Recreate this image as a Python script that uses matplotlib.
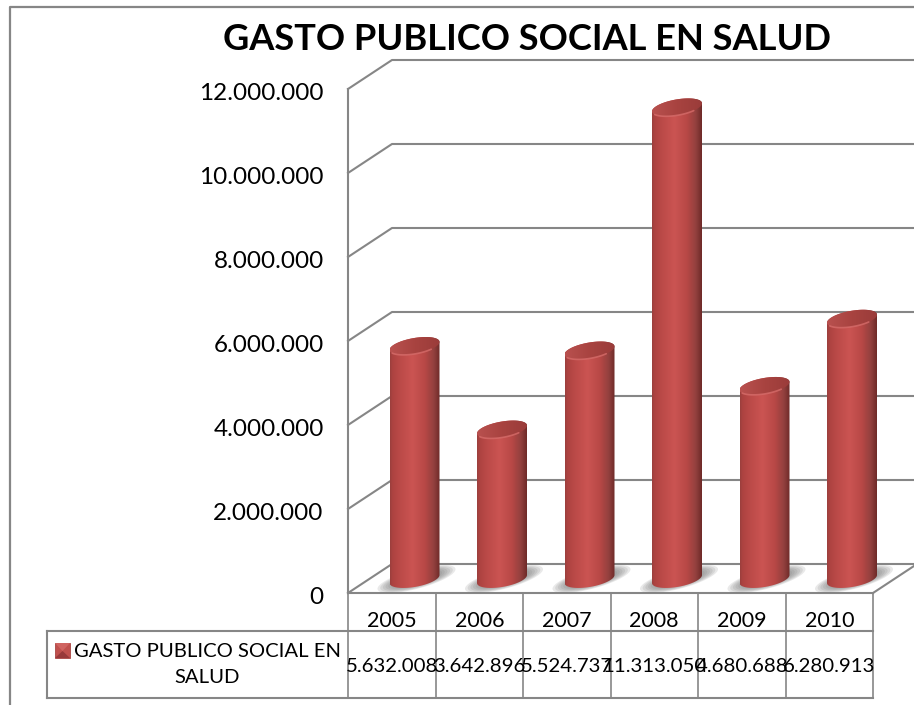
import numpy as np
import matplotlib
matplotlib.use('Agg')
import matplotlib.pyplot as plt
from matplotlib.colors import LinearSegmentedColormap
from matplotlib.patches import Polygon, Rectangle
from matplotlib.transforms import ScaledTranslation, blended_transform_factory

# data
years = ['2005', '2006', '2007', '2008', '2009', '2010']
gasto = [5632008, 3642896, 5524737, 11313050, 4680688, 6280913]
y_ticks = [0, 2000000, 4000000, 6000000, 8000000, 10000000, 12000000]
serie = 'GASTO PUBLICO SOCIAL EN\nSALUD'
titulo = 'GASTO PUBLICO SOCIAL EN SALUD'

W, H = 914, 705
X0, CELL = 348.0, 87.5      # table cells under the plot
Y0, PX_M = 593.0, 42.0      # pixel of zero, pixels per million
GRID = '#868686'

plt.rcParams['font.family'] = ['Lato', 'DejaVu Sans']

fig = plt.figure(figsize=(W / 100, H / 100), dpi=100, facecolor='white')

# pixel overlay for the frame and the table
bg = fig.add_axes([0, 0, 1, 1], zorder=0)
bg.set_xlim(0, W)
bg.set_ylim(H, 0)
bg.axis('off')

ax = fig.add_axes([X0 / W, (H - Y0) / H, (W - X0) / W, 504 / H], zorder=1)
ax.patch.set_alpha(0)
ax.set_xlim(0, (W - X0) / CELL)
ax.set_ylim(0, 12000000)
for s in ax.spines.values():
    s.set_visible(False)

PX_X = 1 / CELL           # data x per pixel
PX_Y = 1e6 / PX_M         # data y per pixel
DX, DY = 44 * PX_X, 29 * PX_Y   # depth of the 3d box

# outer frame of the chart
bg.plot([10, 10, W], [H, 7, 7], color=GRID, lw=1.6)

# walls and floor
for v in y_ticks:
    ax.plot([0, DX, 10], [v, v + DY, v + DY], color=GRID, lw=1.5, clip_on=False, zorder=1)
ax.plot([0, 0], [0, 12000000], color=GRID, lw=1.5, clip_on=False, zorder=1)
ax.plot([0, len(years)], [0, 0], color=GRID, lw=1.5, clip_on=False, zorder=1)
ax.plot([len(years), len(years) + DX], [0, DY], color=GRID, lw=1.5, clip_on=False, zorder=1)

# cylinders
body_cmap = LinearSegmentedColormap.from_list('body', [
    (0, '#9a3f3d'), (0.05, '#ad4341'), (0.2, '#bb4a48'), (0.45, '#cb5452'),
    (0.7, '#b84846'), (0.88, '#92403e'), (1, '#6e2a28')])
cap_cmap = LinearSegmentedColormap.from_list('cap', ['#b9514f', '#a84340', '#9a3c3a'])
grad = np.linspace(0, 1, 256).reshape(1, -1)

half_w, half_h, slant = 25.0, 8.0, 0.16
t = np.linspace(0, 2 * np.pi, 121)
ex = half_w * np.cos(t)
ey = half_h * np.sin(t) + slant * ex
base = 14 * PX_Y
drop = 3.5 * PX_Y    # cap sits a little under the nominal height

for i, v in enumerate(gasto):
    cx = i + 0.76
    # soft shadow on the floor
    for k in np.linspace(1, 0.45, 9):
        ax.fill(cx + 2 * PX_X + 39 * k * np.cos(t) * PX_X,
                base + (10 * k * np.sin(t) + 0.25 * 39 * k * np.cos(t)) * PX_Y,
                color='#777777', alpha=0.16, lw=0, zorder=2)
    top = base + v - drop
    up = t <= np.pi
    down = t >= np.pi
    sx = np.r_[ex[up], ex[down]] * PX_X + cx
    sy = np.r_[top + ey[up] * PX_Y, base + ey[down] * PX_Y]
    extent = [cx - half_w * PX_X, cx + half_w * PX_X, 0, top + 12 * PX_Y]
    im = ax.imshow(grad, cmap=body_cmap, extent=extent, aspect='auto', zorder=3, interpolation='bilinear')
    im.set_clip_path(Polygon(np.c_[sx, sy], closed=True, transform=ax.transData))
    cap = ax.imshow(grad, cmap=cap_cmap, extent=extent, aspect='auto', zorder=4, interpolation='bilinear')
    cap.set_clip_path(Polygon(np.c_[cx + ex * PX_X, top + ey * PX_Y], closed=True, transform=ax.transData))
    low = (t > 1.15 * np.pi) & (t < 1.75 * np.pi)
    ax.plot(cx + ex[low] * PX_X, top + ey[low] * PX_Y, color='#d66c6a', lw=1.2, zorder=5,
            solid_capstyle='round', alpha=0.8)
ax.set_xlim(0, (W - X0) / CELL)
ax.set_ylim(0, 12000000)

# axis labels
ax.set_yticks(y_ticks)
ax.set_yticklabels([f'{v:,}'.replace(',', '.') for v in y_ticks], fontsize=17.5, color='black')
ax.tick_params(axis='y', length=0, pad=17.5)
nudge = ScaledTranslation(0, -2 / 72, fig.dpi_scale_trans)
for lab in ax.get_yticklabels():
    lab.set_transform(lab.get_transform() + nudge)
ax.set_xticks(np.arange(len(years)) + 0.5)
ax.set_xticklabels(years, fontsize=15.5, color='black')
ax.tick_params(axis='x', length=0, pad=13)

# data table
bg.plot([47, 47], [631, 698], color=GRID, lw=1.5)
bg.plot([47, X0 + 6 * CELL], [631, 631], color=GRID, lw=1.5)
bg.plot([47, X0 + 6 * CELL], [698, 698], color=GRID, lw=1.5)
for i in range(len(years) + 1):
    bg.plot([X0 + i * CELL] * 2, [593, 698], color=GRID, lw=1.2)

# the reference has these values running over each other, kept that way
cell_tf = blended_transform_factory(ax.transData, bg.transData)
for i, v in enumerate(gasto):
    ax.text(i + 0.5, 667, f'{v:,}'.replace(',', '.'), transform=cell_tf, ha='center', va='center',
            fontsize=14.7, color='black', clip_on=False, zorder=6)

# legend key
bg.add_patch(Rectangle((55, 643), 15, 15, facecolor='#c0504d', edgecolor='#a94543', lw=0.6))
bg.add_patch(Polygon([(55, 643), (70, 643), (62.5, 651)], facecolor='#d06461', lw=0))
bg.add_patch(Polygon([(55, 658), (70, 658), (62.5, 651)], facecolor='#98393a', lw=0))
bg.text(207, 664.5, serie, ha='center', va='center', fontsize=14.6, linespacing=1.63, color='black')

fig.text(527 / W, 1 - 40 / H, titulo, ha='center', va='center', fontsize=26.1, fontweight='bold', color='black')

fig.savefig('out.png', dpi=100)
